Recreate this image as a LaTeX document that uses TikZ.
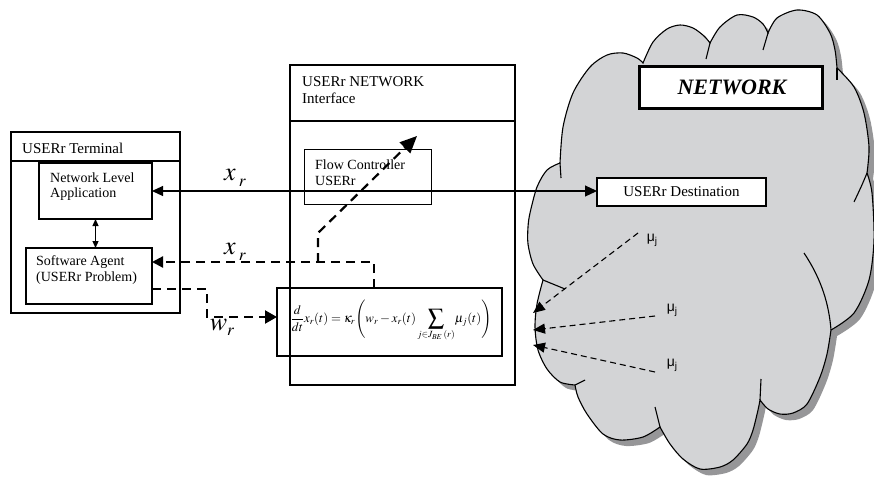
\documentclass[tikz,border=0pt]{standalone}
\usepackage{mathptmx}
\usepackage[no-math]{fontspec}
\setmainfont{Liberation Serif}
\newfontfamily\sansf{Liberation Sans}
\usetikzlibrary{arrows.meta}
\definecolor{cloudfill}{RGB}{211,212,214}
\definecolor{cloudshadow}{RGB}{150,150,152}
\newcommand\cloudpathcmd[1]{%
\path[#1]
 plot[smooth] coordinates {(560,163) (563,127) (573,93) (590,67) (607,55) (623,53) (637,58) (643,63)}
 -- plot[smooth] coordinates {(643,63) (653,42) (667,29) (680,25) (693,28) (704,36) (710,43)}
 -- plot[smooth] coordinates {(710,43) (720,27) (737,15) (753,17) (763,24) (768,33)}
 -- plot[smooth] coordinates {(768,33) (777,18) (797,10) (817,15) (830,33) (835,50) (837,68)}
 -- plot[smooth] coordinates {(837,68) (854,87) (864,113) (869,147) (867,173)}
 -- plot[smooth] coordinates {(867,173) (872,193) (874,240) (869,280) (854,313) (831,330)}
 -- plot[smooth] coordinates {(831,330) (827,354) (820,377) (807,404) (793,413) (780,414) (768,409) (760,400)}
 -- plot[smooth] coordinates {(760,400) (758,410) (753,430) (747,444) (733,460) (720,467) (700,469) (683,459) (670,444) (660,427)}
 -- plot[smooth] coordinates {(660,427) (643,437) (620,440) (603,434) (587,414) (578,397) (575,385)}
 -- plot[smooth] coordinates {(575,385) (560,382) (547,369) (538,350) (535,327) (537,304) (543,280)}
 -- plot[smooth] coordinates {(543,280) (533,264) (528,244) (528,227) (530,213) (537,187) (547,170) (560,163)}
 -- cycle;}
\newcommand\bigsum{\mathop{\mbox{\fontsize{16}{16}\selectfont$\displaystyle\sum$}}\limits}
\tikzset{
  thickbox/.style={draw, line width=2.4pt, inner sep=0pt, outer sep=0pt, anchor=north west},
  midbox/.style={draw, line width=1.4pt, inner sep=0pt, outer sep=0pt, anchor=north west},
  thinbox/.style={draw, line width=1pt, inner sep=0pt, outer sep=0pt, anchor=north west},
  lbl/.style={inner sep=0pt, anchor=west, align=left, font=\fontsize{14}{15.5}\selectfont},
  ttl/.style={inner sep=0pt, anchor=west, align=left, font=\fontsize{15}{17}\selectfont},
  dashthick/.style={line width=2.2pt, dash pattern=on 9pt off 6pt},
  dashthin/.style={line width=1.1pt, dash pattern=on 6pt off 4pt},
  solidthin/.style={line width=1.1pt},
  varlbl/.style={inner sep=0pt, font=\fontsize{26}{26}\selectfont},
  mulbl/.style={inner sep=0pt, font=\sansf\fontsize{14}{14}\selectfont},
  tail/.style={line width=1.1pt}
}
\begin{document}
\begin{tikzpicture}[x=1pt,y=-1pt]
\useasboundingbox (0,0) rectangle (874,477);
% cloud
\begin{scope}
\clip (0,0) rectangle (874,477);
\cloudpathcmd{fill=cloudshadow, shift={(6,6)}}
\cloudpathcmd{fill=cloudfill, draw=black, line width=1.1pt}
\draw[tail] (560,163) -- (561,178);
\draw[tail] (710,43) -- (706,59);
\draw[tail] (768,33) -- (763,50);
\draw[tail] (837,68) -- (837,80);
\draw[tail] (867,173) .. controls (862,185) .. (854,202);
\draw[tail] (804,253) .. controls (822,280) and (829,305) .. (831,330);
\draw[tail] (760,400) -- (761,379);
\draw[tail] (660,427) -- (655,407);
\draw[tail] (575,385) -- (585,380);
\draw[tail] (543,280) -- (565,289);
\end{scope}

% boxes
\node[thickbox, minimum width=169, minimum height=181] (term) at (11,132) {};
\path (term.north west) ++(0,29) coordinate (th);
\draw[line width=2.4pt] (th) -- (th -| term.east);
\node[ttl] (termt) at (22,148) {USERr Terminal};
\node[midbox, minimum width=113, minimum height=56] (nla) at (39,163) {};
\node[lbl] (nlat) at (50,186.5) {Network Level\\Application};
\node[midbox, minimum width=126, minimum height=56] (sa) at (26,248) {};
\node[lbl] (sat) at (36,270) {Software Agent\\(USERr Problem)};

\node[thickbox, minimum width=225, minimum height=320] (iface) at (290,65) {};
\path (iface.north west) ++(0,56) coordinate (ih);
\draw[line width=2.4pt] (ih) -- (ih -| iface.east);
\node[ttl] (ifacet) at (302,90) {USERr NETWORK\\Interface};
\node[thinbox, minimum width=127, minimum height=55] (fc) at (304,149) {};
\node[lbl] (fct) at (315,172.5) {Flow Controller\\USERr};

\node[thickbox, line width=2pt, minimum width=225, minimum height=68] (eq) at (277,288) {};
\node[inner sep=0pt, font=\fontsize{12.8}{15}\selectfont] (eqt) at (391,321)
 {$\displaystyle \frac{d}{dt}x_r(t)=\kappa_r\Biggl(w_r-x_r(t)\bigsum_{j\in J_{BE}\,(r)}\!\mu_j(t)\Biggr)$};

\node[thinbox, fill=white, line width=1.2pt, minimum width=169, minimum height=28] (dest) at (597,178) {};
\node[ttl, anchor=center] (destt) at (dest.center) {USERr Destination};
\node[thickbox, fill=white, line width=3pt, minimum width=183, minimum height=42] (net) at (639,66) {};
\node[inner sep=0pt, font=\fontsize{22}{22}\selectfont\bfseries\itshape] (nett) at (732,87) {NETWORK};

% solid connectors
\draw[solidthin, {Triangle[length=11pt,width=10pt]}-{Triangle[length=12pt,width=11pt]}] (nla.east) -- (nla.east -| dest.west);
\draw[solidthin, {Triangle[length=7pt,width=6pt]}-{Triangle[length=7pt,width=6pt]}] (nla.south) -- (nla.south |- sa.north);

% dashed connectors
\coordinate (eqtap) at (374,288);
\coordinate (sa1) at (152,262);
\coordinate (sa2) at (152,289);
\coordinate (wk) at (207,317);
\coordinate (eqin) at (277,317);
\coordinate (br) at (318,262);
\coordinate (bk) at (318,233);
\coordinate (tip) at (417,136);
\draw[dashthick, -{Triangle[length=11pt,width=11pt]}] (eqtap) |- (sa1);
\draw[dashthick, -{Triangle[length=17pt,width=15pt]}] (br) -- (bk) -- (tip);
\draw[dashthick, -{Triangle[length=12pt,width=13pt]}] (sa2) -| (wk) -- (eqin);

% labels
\node[varlbl] (xr1) at (235,178) {$x\,$\raisebox{-6pt}{\fontsize{17}{17}\selectfont$r$}};
\node[varlbl] (xr2) at (235,252) {$x\,$\raisebox{-6pt}{\fontsize{17}{17}\selectfont$r$}};
\node[varlbl] (wr) at (222,327) {$w$\raisebox{-5pt}{\fontsize{17}{17}\selectfont$r$}};

% mu arrows
\node[mulbl] (mu1) at (652,240) {μ\raisebox{-3pt}{\fontsize{10}{10}\selectfont j}};
\node[mulbl] (mu2) at (672,310) {μ\raisebox{-3pt}{\fontsize{10}{10}\selectfont j}};
\node[mulbl] (mu3) at (672,365) {μ\raisebox{-3pt}{\fontsize{10}{10}\selectfont j}};
\coordinate (m1s) at (638,233);
\coordinate (m1e) at (533,313);
\coordinate (m2s) at (655,316);
\coordinate (m2e) at (533,330);
\coordinate (m3s) at (655,372);
\coordinate (m3e) at (533,345);
\draw[dashthin, -{Triangle[length=12pt,width=10pt]}] (m1s) -- (m1e);
\draw[dashthin, -{Triangle[length=12pt,width=10pt]}] (m2s) -- (m2e);
\draw[dashthin, -{Triangle[length=12pt,width=10pt]}] (m3s) -- (m3e);
\end{tikzpicture}
\end{document}
